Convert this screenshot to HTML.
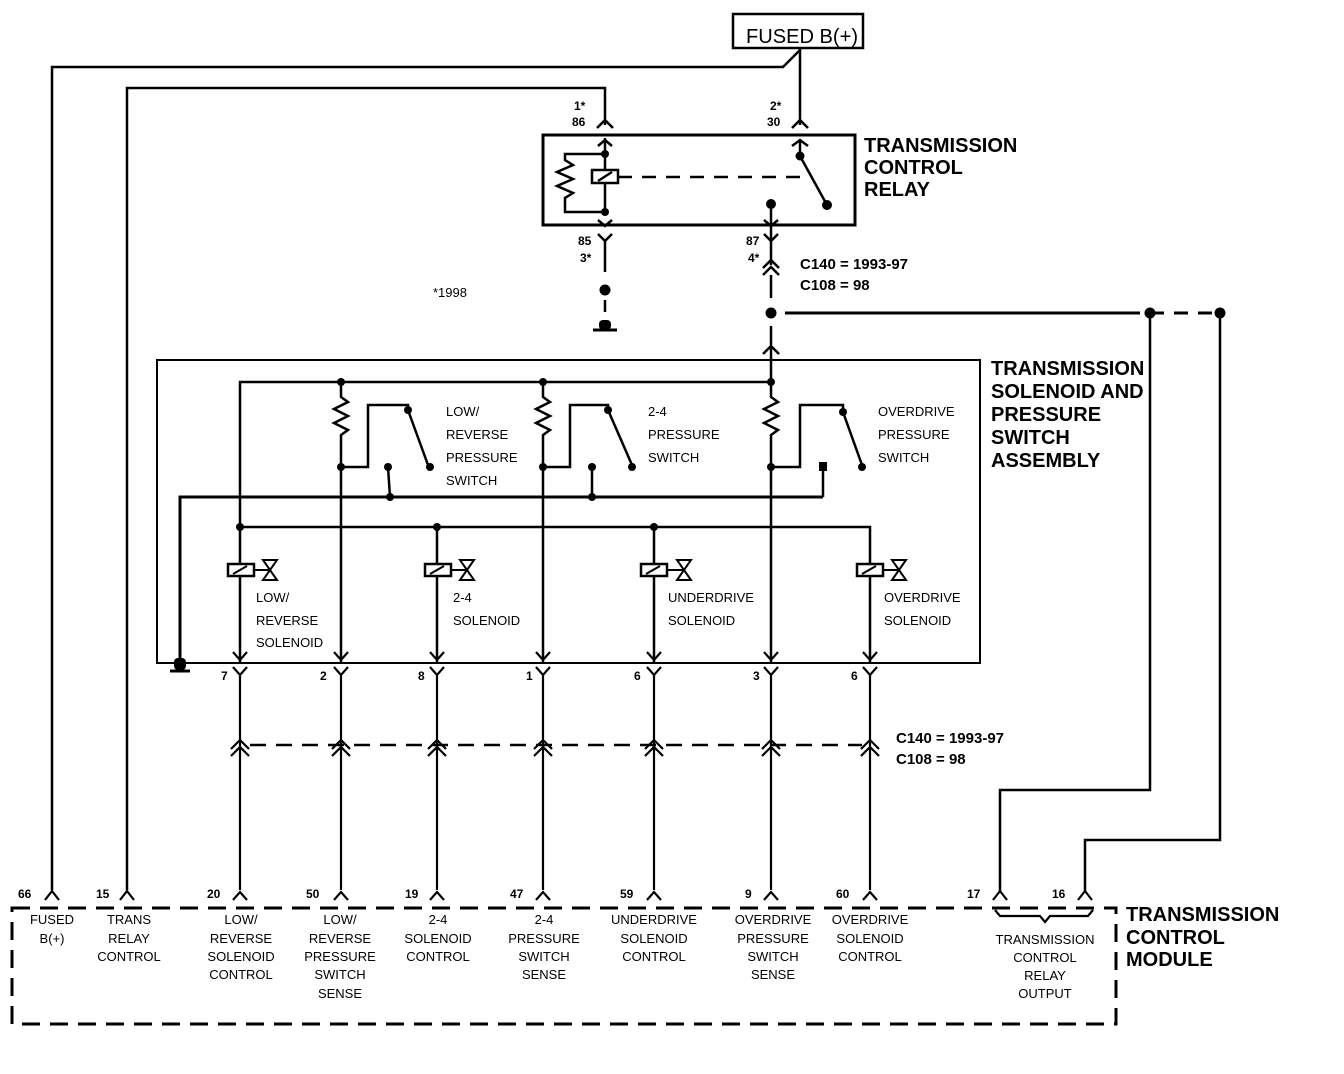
<!DOCTYPE html>
<html><head><meta charset="utf-8"><style>
html,body{margin:0;padding:0;background:#fff;}
svg{display:block;}
text{font-family:"Liberation Sans",sans-serif;fill:#000;}
.s{font-size:13px;}
.p{font-size:12px;font-weight:bold;}
.t{font-size:20px;font-weight:bold;}
</style></head><body>
<svg width="1344" height="1074" viewBox="0 0 1344 1074" xmlns="http://www.w3.org/2000/svg">
<defs>
<g id="c" fill="none" stroke="#000" stroke-width="2.2"><polyline points="-7,652 0,660 7,652"/><polyline points="-7,667 0,675 7,667"/><line x1="0" y1="675" x2="0" y2="890"/><polyline points="-9,749 0,740 9,749"/><polyline points="-9,756 0,747 9,756"/><polyline points="-7,900 0,892 7,900"/></g>
</defs>
<g fill="none" stroke="#000" stroke-width="2.5">
<rect x="733" y="14" width="130" height="34" stroke-width="2.5"/>
<polyline points="52,890 52,67 783,67 800,50"/>
<line x1="800" y1="48" x2="800" y2="125"/>
<polyline points="127,890 127,88 605,88 605,125"/>
<polyline points="792,128 800,120 808,128"/>
<polyline points="597,128 605,120 613,128"/>
<rect x="543" y="135" width="312" height="90" stroke-width="3"/>
<line x1="605" y1="138" x2="605" y2="212"/>
<polyline points="598,146 605,140 612,146"/>
<polyline points="605,154 565,154 565,160 573,165 557,172 573,179 557,186 573,193 565,198 565,212 605,212"/>
<rect x="592" y="170" width="26" height="13" fill="#fff"/>
<line x1="598" y1="181" x2="612" y2="172"/>
<line x1="618" y1="177" x2="800" y2="177" stroke-dasharray="14,10"/>
<polyline points="792,146 800,140 808,146"/>
<line x1="800" y1="140" x2="800" y2="156"/>
<line x1="800" y1="156" x2="827" y2="205"/>
<line x1="771" y1="202" x2="771" y2="240"/>
<polyline points="598,220 605,226 612,220"/>
<polyline points="764,220 771,226 778,220"/>
<polyline points="598,234 605,241 612,234"/><line x1="605" y1="241" x2="605" y2="272"/>
<polyline points="764,234 771,241 778,234"/>
<line x1="605" y1="300" x2="605" y2="312"/>
<line x1="593" y1="330" x2="617" y2="330" stroke-width="3"/>
<polyline points="763,268 771,260 779,268"/><polyline points="763,275 771,267 779,275"/>
<line x1="771" y1="241" x2="771" y2="265"/>
<line x1="771" y1="275" x2="771" y2="298"/>
<line x1="771" y1="326" x2="771" y2="345"/>
<line x1="785" y1="313" x2="1140" y2="313" stroke-width="3"/>
<line x1="1150" y1="313" x2="1220" y2="313" stroke-dasharray="14,10" stroke-width="3"/>
<polyline points="1150,313 1150,790 1000,790 1000,893"/>
<polyline points="1220,313 1220,840 1085,840 1085,893"/>
<polyline points="763,354 771,346 779,354"/><line x1="771" y1="346" x2="771" y2="382"/>
<rect x="157" y="360" width="823" height="303" stroke-width="2"/>
<polyline points="240,663 240,382 771,382"/>
<polyline points="341,382 341,397 348,402 334,409 348,416 334,423 348,430 341,435 341,663"/>
<polyline points="543,382 543,397 550,402 536,409 550,416 536,423 550,430 543,435 543,663"/>
<polyline points="771,382 771,397 778,402 764,409 778,416 764,423 778,430 771,435 771,663"/>
<polyline points="341,467 368,467 368,405 408,405 408,410 428,465"/>
<polyline points="543,467 570,467 570,405 608,405 608,410 632,465"/>
<polyline points="771,467 800,467 800,405 843,405 843,412 862,465"/>
<line x1="388" y1="467" x2="390" y2="497"/>
<line x1="592" y1="467" x2="592" y2="497"/>
<line x1="823" y1="467" x2="823" y2="497"/>
<polyline points="180,663 180,497 823,497" stroke-width="3"/>
<line x1="170" y1="671" x2="190" y2="671" stroke-width="3"/>
<polyline points="240,527 870,527 870,663"/>
<line x1="437" y1="527" x2="437" y2="663"/>
<line x1="654" y1="527" x2="654" y2="663"/>
<line x1="250" y1="745" x2="862" y2="745" stroke-dasharray="16,10"/>
</g>
<g fill="#000">
<circle cx="605" cy="154" r="4"/><circle cx="605" cy="212" r="4"/><circle cx="800" cy="156" r="4.5"/><circle cx="827" cy="205" r="5"/><circle cx="771" cy="204" r="5"/>
<circle cx="605" cy="290" r="5.5"/><rect x="599" y="320" width="12" height="10" rx="4"/>
<circle cx="771" cy="313" r="5.5"/><circle cx="1150" cy="313" r="5.5"/><circle cx="1220" cy="313" r="5.5"/>
<circle cx="341" cy="382" r="4"/><circle cx="543" cy="382" r="4"/><circle cx="771" cy="382" r="4"/>
<circle cx="341" cy="467" r="4"/><circle cx="543" cy="467" r="4"/><circle cx="771" cy="467" r="4"/>
<circle cx="408" cy="410" r="4"/><circle cx="608" cy="410" r="4"/><circle cx="843" cy="412" r="4"/>
<circle cx="430" cy="467" r="4"/><circle cx="632" cy="467" r="4"/><circle cx="862" cy="467" r="4"/>
<circle cx="388" cy="467" r="4"/><circle cx="592" cy="467" r="4"/><rect x="819" y="462" width="8" height="9"/>
<circle cx="390" cy="497" r="4"/><circle cx="592" cy="497" r="4"/>
<circle cx="240" cy="527" r="4"/><circle cx="437" cy="527" r="4"/><circle cx="654" cy="527" r="4"/>
<rect x="174" y="658" width="12" height="12" rx="4"/>
</g>
<g fill="#fff" stroke="#000" stroke-width="2.5">
<rect x="228" y="564" width="26" height="12"/><rect x="425" y="564" width="26" height="12"/><rect x="641" y="564" width="26" height="12"/><rect x="857" y="564" width="26" height="12"/>
</g>
<g fill="none" stroke="#000" stroke-width="2">
<line x1="233" y1="574" x2="247" y2="566"/><line x1="430" y1="574" x2="444" y2="566"/><line x1="646" y1="574" x2="660" y2="566"/><line x1="862" y1="574" x2="876" y2="566"/>
<line x1="254" y1="570" x2="270" y2="570"/><line x1="451" y1="570" x2="467" y2="570"/><line x1="667" y1="570" x2="684" y2="570"/><line x1="883" y1="570" x2="899" y2="570"/>
<path d="M263,560 H277 L263,580 H277 Z"/><path d="M460,560 H474 L460,580 H474 Z"/><path d="M677,560 H691 L677,580 H691 Z"/><path d="M892,560 H906 L892,580 H906 Z"/>
</g>
<use href="#c" x="240"/><use href="#c" x="341"/><use href="#c" x="437"/><use href="#c" x="543"/><use href="#c" x="654"/><use href="#c" x="771"/><use href="#c" x="870"/>
<g fill="none" stroke="#000" stroke-width="2.2">
<polyline points="45,900 52,891 59,900"/><polyline points="120,900 127,891 134,900"/>
<polyline points="993,900 1000,891 1007,900"/><polyline points="1078,900 1085,891 1092,900"/>
<polyline points="995,910 1000,916 1040,916 1045,922 1050,916 1088,916 1093,910"/>
<path d="M12,908 H1116 V1024 H12 Z" stroke-dasharray="18,10" stroke-width="3"/>
</g>
<g>
<text x="746" y="43" style="font-size:20px" textLength="112" lengthAdjust="spacingAndGlyphs">FUSED B(+)</text>
<text class="p" x="574" y="110">1*</text><text class="p" x="572" y="126">86</text>
<text class="p" x="770" y="110">2*</text><text class="p" x="767" y="126">30</text>
<text class="p" x="578" y="245">85</text><text class="p" x="580" y="262">3*</text>
<text class="p" x="746" y="245">87</text><text class="p" x="748" y="262">4*</text>
<text class="p" x="800" y="269" style="font-size:15px">C140 = 1993-97</text>
<text class="p" x="800" y="290" style="font-size:15px">C108 = 98</text>
<text class="s" x="433" y="297">*1998</text>
<text class="t" x="864" y="152">TRANSMISSION</text><text class="t" x="864" y="174">CONTROL</text><text class="t" x="864" y="196">RELAY</text>
<text class="t" x="991" y="375">TRANSMISSION</text><text class="t" x="991" y="398">SOLENOID AND</text><text class="t" x="991" y="421">PRESSURE</text><text class="t" x="991" y="444">SWITCH</text><text class="t" x="991" y="467">ASSEMBLY</text>
<text class="s" x="446" y="416">LOW/</text><text class="s" x="446" y="439">REVERSE</text><text class="s" x="446" y="462">PRESSURE</text><text class="s" x="446" y="485">SWITCH</text>
<text class="s" x="648" y="416">2-4</text><text class="s" x="648" y="439">PRESSURE</text><text class="s" x="648" y="462">SWITCH</text>
<text class="s" x="878" y="416">OVERDRIVE</text><text class="s" x="878" y="439">PRESSURE</text><text class="s" x="878" y="462">SWITCH</text>
<text class="s" x="256" y="602">LOW/</text><text class="s" x="256" y="625">REVERSE</text><text class="s" x="256" y="647">SOLENOID</text>
<text class="s" x="453" y="602">2-4</text><text class="s" x="453" y="625">SOLENOID</text>
<text class="s" x="668" y="602">UNDERDRIVE</text><text class="s" x="668" y="625">SOLENOID</text>
<text class="s" x="884" y="602">OVERDRIVE</text><text class="s" x="884" y="625">SOLENOID</text>
<text class="p" x="221" y="680">7</text><text class="p" x="320" y="680">2</text><text class="p" x="418" y="680">8</text><text class="p" x="526" y="680">1</text><text class="p" x="634" y="680">6</text><text class="p" x="753" y="680">3</text><text class="p" x="851" y="680">6</text>
<text class="p" x="896" y="743" style="font-size:15px">C140 = 1993-97</text>
<text class="p" x="896" y="764" style="font-size:15px">C108 = 98</text>
<text class="p" x="18" y="898">66</text><text class="p" x="96" y="898">15</text><text class="p" x="207" y="898">20</text><text class="p" x="306" y="898">50</text><text class="p" x="405" y="898">19</text><text class="p" x="510" y="898">47</text><text class="p" x="620" y="898">59</text><text class="p" x="745" y="898">9</text><text class="p" x="836" y="898">60</text><text class="p" x="967" y="898">17</text><text class="p" x="1052" y="898">16</text>
</g>
<g class="s" text-anchor="middle" style="font-size:13px">
<text x="52" y="924">FUSED</text><text x="52" y="943">B(+)</text>
<text x="129" y="924">TRANS</text><text x="129" y="943">RELAY</text><text x="129" y="961">CONTROL</text>
<text x="241" y="924">LOW/</text><text x="241" y="943">REVERSE</text><text x="241" y="961">SOLENOID</text><text x="241" y="979">CONTROL</text>
<text x="340" y="924">LOW/</text><text x="340" y="943">REVERSE</text><text x="340" y="961">PRESSURE</text><text x="340" y="979">SWITCH</text><text x="340" y="998">SENSE</text>
<text x="438" y="924">2-4</text><text x="438" y="943">SOLENOID</text><text x="438" y="961">CONTROL</text>
<text x="544" y="924">2-4</text><text x="544" y="943">PRESSURE</text><text x="544" y="961">SWITCH</text><text x="544" y="979">SENSE</text>
<text x="654" y="924">UNDERDRIVE</text><text x="654" y="943">SOLENOID</text><text x="654" y="961">CONTROL</text>
<text x="773" y="924">OVERDRIVE</text><text x="773" y="943">PRESSURE</text><text x="773" y="961">SWITCH</text><text x="773" y="979">SENSE</text>
<text x="870" y="924">OVERDRIVE</text><text x="870" y="943">SOLENOID</text><text x="870" y="961">CONTROL</text>
<text x="1045" y="944">TRANSMISSION</text><text x="1045" y="962">CONTROL</text><text x="1045" y="980">RELAY</text><text x="1045" y="998">OUTPUT</text>
</g>
<text class="t" x="1126" y="921">TRANSMISSION</text><text class="t" x="1126" y="944">CONTROL</text><text class="t" x="1126" y="966">MODULE</text>
</svg>
</body></html>
